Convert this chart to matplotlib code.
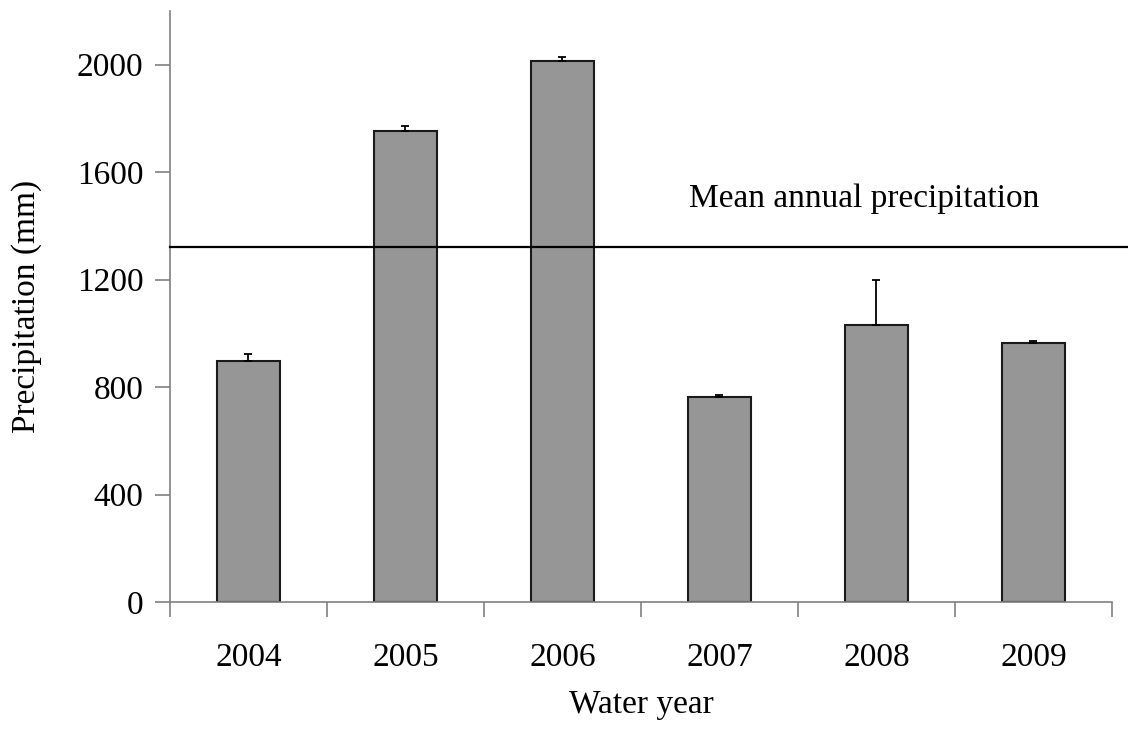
import matplotlib
matplotlib.use('Agg')
from matplotlib import pyplot as plt

years = ['2004', '2005', '2006', '2007', '2008', '2009']
precip = [898, 1752, 2015, 764, 1032, 963]
precip_err = [25, 18, 12, 8, 166, 7]
mean_annual = 1322

plt.rcParams['font.family'] = ['Liberation Serif', 'DejaVu Serif']
fs = 24

fig = plt.figure(figsize=(11.28, 7.3), dpi=100)
ax = fig.add_axes([0.1507, 0.1753, 0.8351, 0.8097])

x = range(len(years))
ax.bar(x, precip, width=0.4, color='#969696', edgecolor='#1a1a1a', linewidth=1.5,
	yerr=[[0]*len(precip), precip_err], error_kw=dict(ecolor='black', elinewidth=1.3, capsize=3.2, capthick=1.3),
	zorder=2)

# mean line runs a little past the end of the x axis
ax.axhline(mean_annual, xmin=0, xmax=1.016, color='black', linewidth=1.6, clip_on=False, zorder=3)
ax.text(3.92, mean_annual + 180, 'Mean annual precipitation', ha='center', va='center', fontsize=fs)

ax.set_xlim(-0.5, len(years) - 0.5)
ax.set_ylim(0, 2200)
ax.set_yticks(range(0, 2001, 400))
# ticks between categories, labels centred under bars
ax.set_xticks([i - 0.5 for i in range(len(years) + 1)], minor=False)
ax.set_xticklabels([])
ax.set_xticks(list(x), minor=True)
ax.set_xticklabels(years, minor=True)
ax.tick_params(axis='x', which='minor', length=0, pad=29, labelsize=fs)
ax.tick_params(axis='x', which='major', length=11, width=1.2, color='#808080', direction='out')
ax.tick_params(axis='y', length=11, width=1.2, color='#808080', direction='out', labelsize=fs, pad=8)

for s in ['top', 'right']:
	ax.spines[s].set_visible(False)
for s in ['left', 'bottom']:
	ax.spines[s].set_color('#808080')
	ax.spines[s].set_linewidth(1.2)

ax.set_xlabel('Water year', fontsize=fs, labelpad=12)
ax.set_ylabel('Precipitation (mm)', fontsize=fs, labelpad=25)

plt.savefig('out.png', dpi=100)
